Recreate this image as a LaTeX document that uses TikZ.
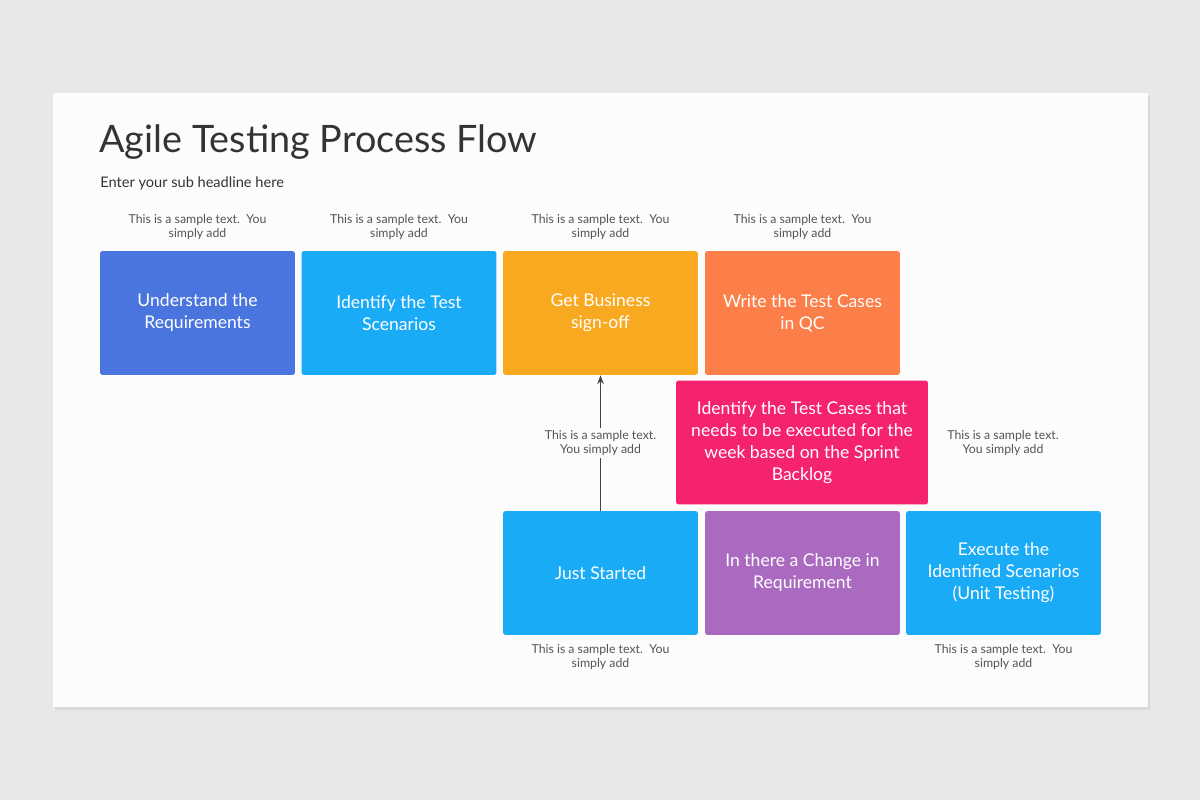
\documentclass[tikz,border=0pt]{standalone}
\usepackage{fontspec}
\setmainfont{Lato}
\usetikzlibrary{arrows.meta,shadows}
\definecolor{bg}{HTML}{E9E8E9}
\definecolor{cA}{HTML}{4A74DE}
\definecolor{cB}{HTML}{1AABF7}
\definecolor{cC}{HTML}{F9A91F}
\definecolor{cD}{HTML}{FC7E48}
\definecolor{cE}{HTML}{F5226F}
\definecolor{cF}{HTML}{A96ABF}
\definecolor{tx}{HTML}{333333}
\definecolor{sm}{HTML}{555555}
\begin{document}
\begin{tikzpicture}[x=0.02cm,y=-0.02cm,
  boxst/.style={rectangle,rounded corners=1.5pt,minimum width=3.9cm,minimum height=2.48cm,text=white,align=center,font=\fontsize{10}{12.5}\selectfont},
  smtxt/.style={text=sm,align=center,font=\fontsize{7}{8.2}\selectfont,inner sep=1pt}]
\useasboundingbox (0,0) rectangle (1200,800);
\fill[bg] (0,0) rectangle (1200,800);
\fill[black!15] (55,96) rectangle (1150,710);
\fill[white!99!black] (53,93) rectangle (1148,707);
\node[anchor=west,text=tx,font=\fontsize{21.5}{24}\selectfont,inner sep=0] (title) at (99,142) {Agile Testing Process Flow};
\node[anchor=west,text=tx,font=\fontsize{8.3}{10}\selectfont,inner sep=0] (sub) at (100,183) {Enter your sub headline here};
\node[boxst,fill=cA] (b1) at (197.5,313) {Understand the\\Requirements};
\node[boxst,fill=cB] (b2) at (399,313) {Identify the Test\\Scenarios};
\node[boxst,fill=cC] (b3) at (600.5,313) {Get Business\\sign-off};
\node[boxst,fill=cD] (b4) at (802.5,313) {Write the Test Cases\\in QC};
\node[boxst,fill=cE,minimum width=5.04cm] (b5) at (802,442.5) {Identify the Test Cases that\\needs to be executed for the\\week based on the Sprint\\Backlog};
\node[boxst,fill=cB] (b6) at (600.5,573) {Just Started};
\node[boxst,fill=cF] (b7) at (802.5,573) {In there a Change in\\Requirement};
\node[boxst,fill=cB] (b8) at (1003.5,573) {Execute the\\Identified Scenarios\\(Unit Testing)};
\draw[sm!80!black,line width=0.8pt,-{Stealth[length=5pt]}] (b6.north) -- (b3.south);
\node[smtxt] (l1) at (197.5,227) {This is a sample text.\ \ You\\simply add};
\node[smtxt] (l2) at (399,227) {This is a sample text.\ \ You\\simply add};
\node[smtxt] (l3) at (600.5,227) {This is a sample text.\ \ You\\simply add};
\node[smtxt] (l4) at (802.5,227) {This is a sample text.\ \ You\\simply add};
\node[smtxt,fill=white!99!black] (l5) at (600.5,443) {This is a sample text.\\You simply add};
\node[smtxt] (l6) at (1003,443) {This is a sample text.\\You simply add};
\node[smtxt] (l7) at (600.5,657) {This is a sample text.\ \ You\\simply add};
\node[smtxt] (l8) at (1003.5,657) {This is a sample text.\ \ You\\simply add};
\end{tikzpicture}
\end{document}
